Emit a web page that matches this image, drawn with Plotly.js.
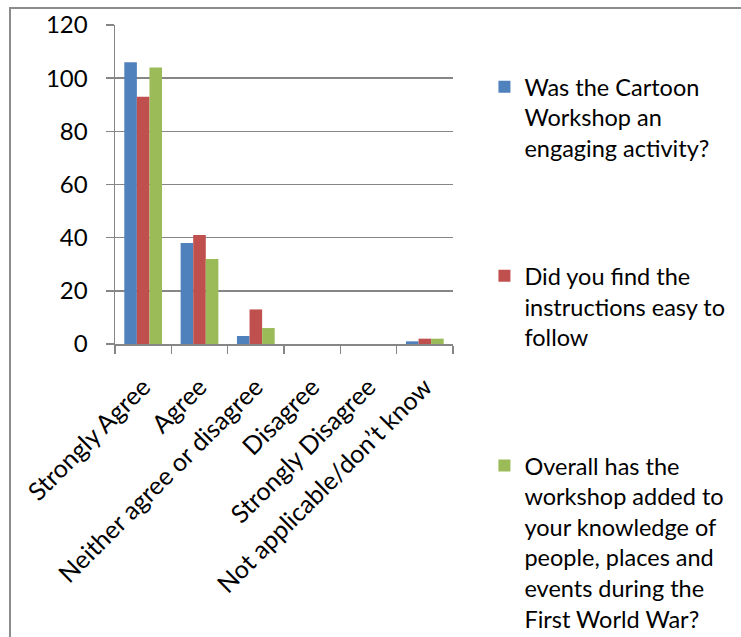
<!DOCTYPE html>
<html>
<head>
<meta charset="utf-8">
<script src="https://cdn.plot.ly/plotly-3.0.1.min.js"></script>
<style>
  html, body { margin: 0; padding: 0; background: #fff; overflow: hidden; }
  #frame { position: absolute; left: 9px; top: 7px; width: 900px; height: 800px; border: 2px solid #8c8c8c; box-sizing: border-box; pointer-events: none; z-index: 2; }
  #chart { position: absolute; left: 0; top: 0; width: 741px; height: 637px; }
</style>
</head>
<body>
<div id="chart"></div>
<div id="frame"></div>
<script>
const categories = ["Strongly Agree", "Agree", "Neither agree or disagree", "Disagree", "Strongly Disagree", "Not applicable/don\u2019t know"];
const seriesNames = [
  "Was the Cartoon<br>Workshop an<br>engaging activity?",
  "Did you find the<br>instructions easy to<br>follow",
  "Overall has the<br>workshop added to<br>your knowledge of<br>people, places and<br>events during the<br>First World War?"
];
const engaging = [106, 38, 3, 0, 0, 1];
const instructions = [93, 41, 13, 0, 0, 2];
const knowledge = [104, 32, 6, 0, 0, 2];
const colors = ["#4f81bd", "#c0504d", "#9bbb59"];

const font = "Lato, 'Open Sans', sans-serif";
const seriesValues = [engaging, instructions, knowledge];
const legendIds = ["legend", "legend2", "legend3"];

const traces = seriesValues.map((vals, i) => ({
  type: "bar",
  name: seriesNames[i],
  x: categories,
  y: vals,
  marker: { color: colors[i], line: { width: 0 } },
  legend: legendIds[i],
  hoverinfo: "x+y"
}));

const legendBase = {
  font: { family: font, size: 23.5, color: "#000" },
  bgcolor: "rgba(0,0,0,0)",
  xanchor: "left",
  yanchor: "top",
  valign: "top",
  itemwidth: 30,
  x: 1.093
};

const layout = {
  width: 741,
  height: 637,
  margin: { l: 115, r: 288, t: 25, b: 293, autoexpand: false },
  paper_bgcolor: "#fff",
  plot_bgcolor: "#fff",
  bargap: 0.33,
  bargroupgap: 0,
  barmode: "group",
  font: { family: font, color: "#000" },
  xaxis: {
    type: "category",
    tickangle: -45,
    tickson: "boundaries",
    ticks: "outside",
    ticklen: 8,
    tickcolor: "#868686",
    tickwidth: 1.5,
    showline: true,
    linecolor: "#868686",
    linewidth: 1.5,
    showgrid: false,
    ticklabelstandoff: 17,
    tickfont: { family: font, size: 25, color: "#000" },
    automargin: false,
    fixedrange: true
  },
  yaxis: {
    range: [0, 120],
    dtick: 20,
    ticks: "outside",
    ticklen: 8,
    tickcolor: "#868686",
    tickwidth: 1.5,
    showline: true,
    linecolor: "#868686",
    linewidth: 1.5,
    gridcolor: "#868686",
    gridwidth: 1.5,
    zeroline: false,
    ticklabelstandoff: 13,
    tickfont: { family: font, size: 24, color: "#000" },
    automargin: false,
    fixedrange: true
  },
  legend: Object.assign({}, legendBase, { y: 0.875 }),
  legend2: Object.assign({}, legendBase, { y: 0.282 }),
  legend3: Object.assign({}, legendBase, { y: -0.313 }),
  showlegend: true
};

Plotly.newPlot("chart", traces, layout, { displayModeBar: false, staticPlot: true });
</script>
</body>
</html>
